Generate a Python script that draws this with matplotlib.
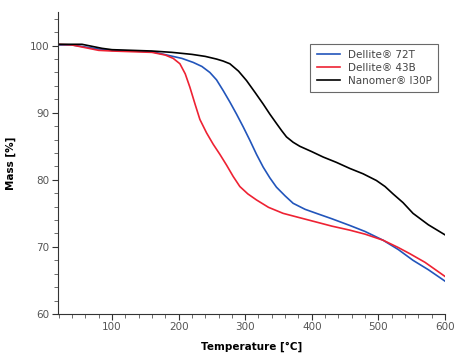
import numpy as np
import matplotlib.pyplot as plt
from matplotlib.ticker import MultipleLocator

# values (temperature in degC, mass in %)
t_72t = [20, 40, 60, 80, 100, 130, 160, 187, 205, 222, 235, 247, 257, 267, 277, 287, 297, 307, 317,
         327, 337, 347, 360, 372, 390, 407, 430, 457, 480, 507, 530, 552, 575, 600]
m_72t = [100.1, 100.1, 99.8, 99.5, 99.3, 99.2, 99.1, 98.5, 98.1, 97.5, 96.9, 96.0, 94.9, 93.3, 91.6,
         89.8, 87.9, 85.9, 83.8, 81.9, 80.3, 78.9, 77.6, 76.5, 75.6, 75.0, 74.2, 73.2, 72.3, 71.0, 69.6,
         68.0, 66.6, 64.9]

t_43b = [20, 40, 60, 80, 100, 130, 160, 180, 192, 202, 210, 217, 225, 232, 242, 252, 262, 272, 282,
         292, 304, 317, 335, 357, 380, 407, 430, 457, 480, 507, 530, 547, 570, 600]
m_43b = [100.2, 100.1, 99.7, 99.3, 99.2, 99.1, 99.0, 98.6, 98.1, 97.3, 95.8, 93.8, 91.2, 89.0, 87.0,
         85.3, 83.8, 82.2, 80.5, 79.0, 77.9, 77.0, 75.9, 75.0, 74.4, 73.7, 73.1, 72.5, 71.9, 71.0, 69.9,
         69.0, 67.7, 65.6]

t_i30p = [20, 40, 55, 70, 85, 100, 130, 160, 190, 220, 240, 257, 267, 277, 290, 302, 315, 327, 337,
          347, 355, 362, 372, 382, 400, 417, 437, 457, 477, 497, 510, 522, 537, 552, 575, 600]
m_i30p = [100.2, 100.2, 100.2, 99.9, 99.6, 99.4, 99.3, 99.2, 99.0, 98.7, 98.4, 98.0, 97.7, 97.3, 96.2,
          94.8, 93.0, 91.3, 89.8, 88.4, 87.3, 86.4, 85.6, 85.0, 84.2, 83.4, 82.6, 81.7, 80.9, 79.9, 79.0,
          77.9, 76.6, 75.0, 73.3, 71.8]

series = [
    ("Dellite\u00ae 72T", t_72t, m_72t, "#2255bb"),
    ("Dellite\u00ae 43B", t_43b, m_43b, "#ee2233"),
    ("Nanomer\u00ae I30P", t_i30p, m_i30p, "#000000"),
]

fig = plt.figure(figsize=(4.55, 3.56), dpi=100)
ax = fig.add_axes([0.1275, 0.118, 0.8505, 0.848])

for name, t, m, c in series:
    ax.plot(t, m, color=c, lw=1.2, label=name)

ax.set_xlim(19, 600)
ax.set_ylim(60, 105)
ax.xaxis.set_major_locator(MultipleLocator(100))
ax.xaxis.set_minor_locator(MultipleLocator(20))
ax.yaxis.set_major_locator(MultipleLocator(10))
ax.yaxis.set_minor_locator(MultipleLocator(2))

for s in ["top", "right"]:
    ax.spines[s].set_visible(False)
for s in ["left", "bottom"]:
    ax.spines[s].set_color("#333333")
    ax.spines[s].set_linewidth(0.8)

ax.tick_params(which="major", length=4, width=0.8, color="#333333", labelsize=7.5,
               labelcolor="#555555", pad=2)
ax.tick_params(which="minor", length=3, width=0.6, color="#555555")

ax.set_xlabel("Temperature [\u00b0C]", fontsize=7.5, fontweight="bold", labelpad=7)
ax.set_ylabel("Mass [%]", fontsize=7.5, fontweight="bold", labelpad=10)

leg = ax.legend(loc="upper right", bbox_to_anchor=(0.982, 0.896), fontsize=7.5, frameon=True,
                fancybox=False, borderaxespad=0, handlelength=2.2, labelspacing=0.3,
                borderpad=0.6)
leg.get_frame().set_edgecolor("#444444")
leg.get_frame().set_linewidth(0.8)
for txt in leg.get_texts():
    txt.set_color("#444444")

fig.savefig("out.png", dpi=100)
